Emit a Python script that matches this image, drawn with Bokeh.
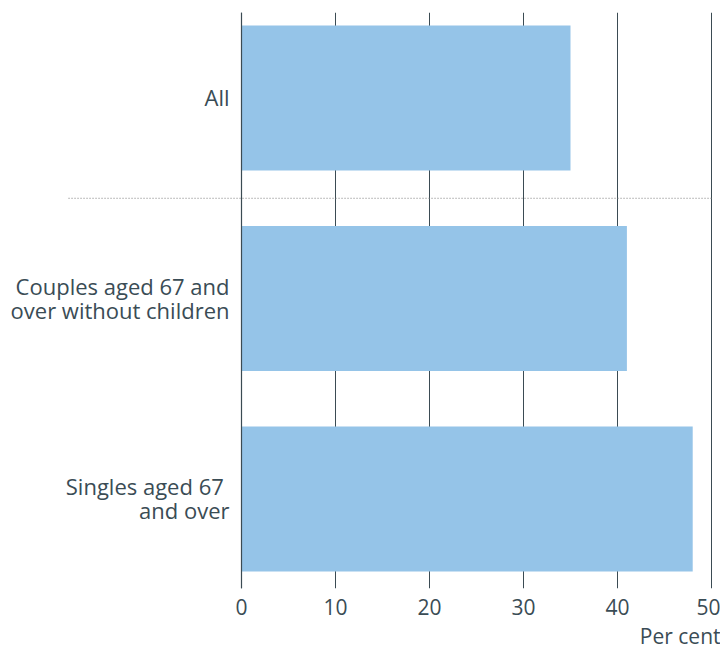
from bokeh.plotting import figure
from bokeh.models import Range1d, FixedTicker, Span, Title, ColumnDataSource
from bokeh.core.properties import value
from bokeh.embed import file_html
from bokeh.resources import INLINE

categories = ["All", "Couples aged 67 and\nover without children", "Singles aged 67 \nand over"]
values = [35, 41, 48]
x_ticks = [0, 10, 20, 30, 40, 50]
x_label = "Per cent"

FONT = "Open Sans"
TXT = "#3a4c55"
BAR = "#95c4e8"
GRID = "#3b4b53"
FS = "21px"

ypos = list(range(len(categories)))
src = ColumnDataSource(dict(y=ypos, v=values, cat=categories, zero=[0] * len(values)))

p = figure(frame_width=712, frame_height=576, output_backend="svg", toolbar_location=None,
           x_range=Range1d(-24.787, 50.957), y_range=Range1d(2.446, -0.4264),
           min_border_top=12, min_border_left=8, min_border_right=0, min_border_bottom=0,
           y_axis_location=None)
p.outline_line_color = None
p.background_fill_color = "white"
p.border_fill_color = "white"

p.ygrid.visible = False
p.xgrid.ticker = FixedTicker(ticks=x_ticks)
p.xgrid.grid_line_color = GRID
p.xgrid.grid_line_width = 1

p.hbar(y="y", right="v", left=0, height=0.723, source=src, color=BAR, line_color=None)

p.add_layout(Span(location=0, dimension="height", line_color=GRID, line_width=1.2, level="overlay"))

# separator between "All" and the groups
p.segment(x0=-18.4, x1=50, y0=0.5, y1=0.5, line_color="#7a7a7a", line_width=1, line_dash="1 2")

p.text(x="zero", y="y", text="cat", source=src, x_offset=-12, y_offset=-1, text_align="right",
       text_baseline="middle", text_font=value(FONT), text_font_size="22px",
       text_color=TXT, text_line_height=0.80)

ax = p.xaxis[0]
ax.ticker = FixedTicker(ticks=x_ticks)
ax.axis_line_color = None
ax.major_tick_line_color = None
ax.minor_tick_line_color = None
ax.major_label_text_font = FONT
ax.major_label_text_font_size = FS
ax.major_label_text_color = TXT
ax.major_label_standoff = 4

t = Title(text=x_label, align="right", text_font=FONT, text_font_size=FS,
          text_color=TXT, text_font_style="normal", standoff=5)
p.add_layout(t, "below")

open("out.html", "w").write(file_html(p, INLINE))
